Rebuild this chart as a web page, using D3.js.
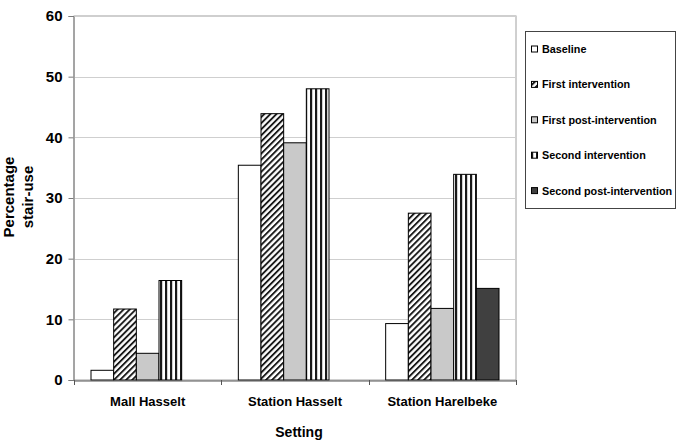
<!DOCTYPE html>
<html>
<head>
<meta charset="utf-8">
<script src="https://cdn.jsdelivr.net/npm/d3@7"></script>
<style>
  html, body { margin: 0; padding: 0; background: #fff; }
  svg { display: block; }
  text { font-family: "Liberation Sans", Arial, sans-serif; font-weight: bold; fill: #000; }
</style>
</head>
<body>
<svg id="chart" width="677" height="446"></svg>
<script>
const categories = ["Mall Hasselt", "Station Hasselt", "Station Harelbeke"];
const seriesNames = ["Baseline", "First intervention", "First post-intervention", "Second intervention", "Second post-intervention"];
const baseline = [1.6, 35.4, 9.3];
const firstIntervention = [11.7, 43.9, 27.5];
const firstPost = [4.4, 39.1, 11.8];
const secondIntervention = [16.4, 48.0, 33.9];
const secondPost = [null, null, 15.1];
const yTicks = [0, 10, 20, 30, 40, 50, 60];

const seriesValues = [baseline, firstIntervention, firstPost, secondIntervention, secondPost];
const fills = ["#ffffff", "url(#hatch)", "#c9c9c9", "url(#vstripe)", "#404040"];

const svg = d3.select("#chart");
const defs = svg.append("defs");

// diagonal hatch
const ph = defs.append("pattern").attr("id", "hatch").attr("patternUnits", "userSpaceOnUse")
  .attr("width", 4.3).attr("height", 4.3).attr("patternTransform", "rotate(45)");
ph.append("rect").attr("width", 4.3).attr("height", 4.3).attr("fill", "#fff");
ph.append("rect").attr("x", 0).attr("width", 1.9).attr("height", 4.3).attr("fill", "#1a1a1a");

// vertical stripes
const pv = defs.append("pattern").attr("id", "vstripe").attr("patternUnits", "userSpaceOnUse")
  .attr("width", 5).attr("height", 10);
pv.append("rect").attr("width", 5).attr("height", 10).attr("fill", "#fff");
pv.append("rect").attr("x", 0).attr("width", 2.2).attr("height", 10).attr("fill", "#1a1a1a");

const pLeft = 74, pRight = 516, pTop = 16, pBottom = 380;

const x = d3.scaleBand().domain(categories).range([pLeft, pRight]).paddingInner(0).paddingOuter(0);
const xs = d3.scaleBand().domain(d3.range(seriesNames.length)).range([0, x.bandwidth()])
  .paddingInner(0).paddingOuter(0.75);
const y = d3.scaleLinear().domain([0, 60]).range([pBottom, pTop]);

// plot border
svg.append("rect").attr("x", pLeft).attr("y", pTop).attr("width", pRight - pLeft).attr("height", pBottom - pTop)
  .attr("fill", "none").attr("stroke", "#a0a0a0").attr("stroke-width", 1);

// gridlines
svg.append("g").selectAll("line").data(yTicks.filter(d => d > 0)).join("line")
  .attr("x1", pLeft).attr("x2", pRight)
  .attr("y1", d => Math.round(y(d)) + 0.5).attr("y2", d => Math.round(y(d)) + 0.5)
  .attr("stroke", "#cfcfcf").attr("stroke-width", 1);

// bars
const barData = [];
seriesValues.forEach((vals, si) => {
  vals.forEach((v, ci) => {
    if (v !== null && v !== undefined) barData.push({ cat: categories[ci], s: si, v: v });
  });
});
svg.append("g").selectAll("rect").data(barData).join("rect")
  .attr("x", d => x(d.cat) + xs(d.s))
  .attr("y", d => y(d.v))
  .attr("width", xs.bandwidth())
  .attr("height", d => y(0) - y(d.v))
  .attr("fill", d => fills[d.s])
  .attr("stroke", "#000").attr("stroke-width", 1);

// y axis
const yAxis = d3.axisLeft(y).tickValues(yTicks).tickSize(5).tickPadding(6).tickFormat(d3.format("d"));
const gy = svg.append("g").attr("transform", `translate(${pLeft - 0.5},0)`).call(yAxis);
gy.select(".domain").attr("stroke", "#7a7a7a");
gy.selectAll(".tick line").attr("stroke", "#7a7a7a");
gy.selectAll(".tick text").style("font-size", "15px").style("font-family", "Liberation Sans, Arial, sans-serif").style("font-weight", "bold").attr("fill", "#000");

// x axis
const xAxis = d3.axisBottom(x).tickSize(0).tickPadding(16);
const gx = svg.append("g").attr("transform", `translate(0,${pBottom + 0.5})`).call(xAxis);
gx.select(".domain").attr("stroke", "#555");
gx.selectAll(".tick text").style("font-size", "13px").style("font-family", "Liberation Sans, Arial, sans-serif").style("font-weight", "bold").attr("fill", "#000");
const bounds = categories.map(c => x(c)).concat([pRight]);
svg.append("g").selectAll("line").data(bounds).join("line")
  .attr("x1", d => Math.round(d) + 0.5).attr("x2", d => Math.round(d) + 0.5)
  .attr("y1", pBottom).attr("y2", pBottom + 5)
  .attr("stroke", "#555");

// axis titles
svg.append("text").attr("x", 299).attr("y", 437).attr("text-anchor", "middle")
  .style("font-size", "14px").text("Setting");
const yt = svg.append("text").attr("transform", "translate(14,197) rotate(-90)").attr("text-anchor", "middle")
  .style("font-size", "15px");
yt.append("tspan").attr("x", 0).attr("dy", 0).text("Percentage");
yt.append("tspan").attr("x", 0).attr("dy", 19).text("stair-use");

// legend
const lg = svg.append("g");
lg.append("rect").attr("x", 525.5).attr("y", 31.5).attr("width", 150).attr("height", 177)
  .attr("fill", "#fff").attr("stroke", "#444").attr("stroke-width", 1);
const items = lg.selectAll("g.item").data(seriesNames).join("g").attr("class", "item")
  .attr("transform", (d, i) => `translate(531,${49 + i * 35.4})`);
items.append("rect").attr("x", 0.5).attr("y", -3).attr("width", 6).attr("height", 6)
  .attr("fill", (d, i) => fills[i]).attr("stroke", "#000").attr("stroke-width", 1);
items.append("text").attr("x", 11).attr("y", 4).style("font-size", "10.8px").text(d => d);
</script>
</body>
</html>
